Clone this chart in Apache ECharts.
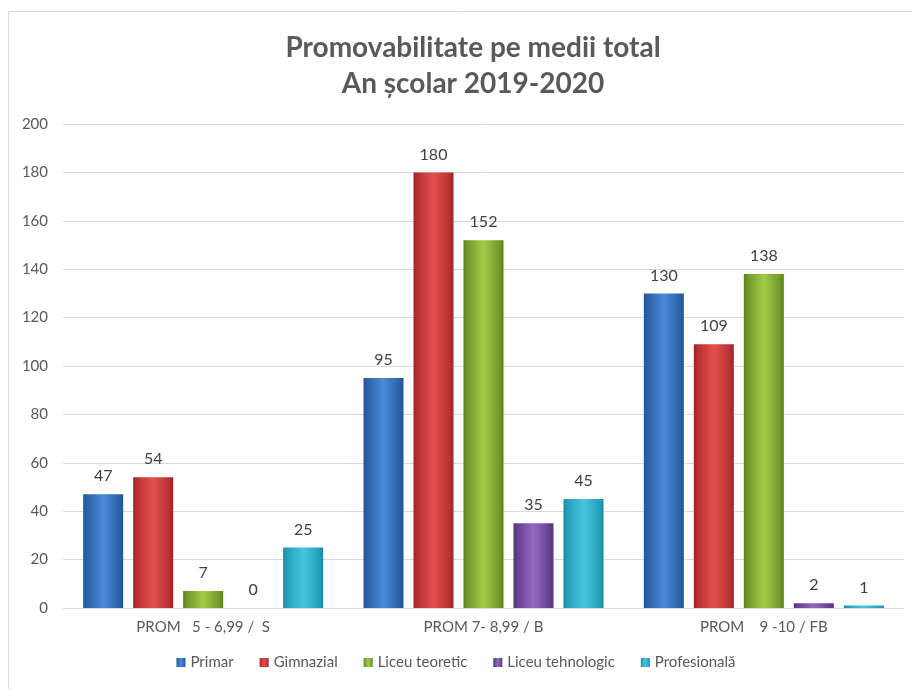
<!DOCTYPE html>
<html>
<head>
<meta charset="utf-8">
<script src="https://cdn.jsdelivr.net/npm/echarts@6/dist/echarts.min.js"></script>
<style>html,body{margin:0;padding:0;background:#fff}#c{width:912px;height:689px}</style>
</head>
<body>
<div id="c"></div>
<script>
const categories = ['PROM   5 - 6,99 /  S', 'PROM 7- 8,99 / B', 'PROM    9 -10 / FB'];
const seriesNames = ['Primar', 'Gimnazial', 'Liceu teoretic', 'Liceu tehnologic', 'Profesională'];
const primar = [47, 95, 130];
const gimnazial = [54, 180, 109];
const liceuTeoretic = [7, 152, 138];
const liceuTehnologic = [0, 35, 2];
const profesionala = [25, 45, 1];
const yTicks = [0, 20, 40, 60, 80, 100, 120, 140, 160, 180, 200];

const values = [primar, gimnazial, liceuTeoretic, liceuTehnologic, profesionala];
const palette = [
  ['#24548f', '#4a8ad8', '#2a62a8'],
  ['#9e2424', '#e45050', '#b83030'],
  ['#5f8020', '#a2cc48', '#72982a'],
  ['#54347c', '#9468c4', '#64408f'],
  ['#1c8aa2', '#46c4de', '#25a0ba']
];
function grad(p) {
  return new echarts.graphic.LinearGradient(0, 0, 1, 0, [
    {offset: 0, color: p[0]},
    {offset: 0.1, color: p[2]},
    {offset: 0.5, color: p[1]},
    {offset: 0.9, color: p[2]},
    {offset: 1, color: p[0]}
  ]);
}
const chart = echarts.init(document.getElementById('c'));
chart.setOption({
  animation: false,
  backgroundColor: '#fff',
  color: palette.map(p => p[1]),
  graphic: [{
    type: 'rect', shape: {x: 8.5, y: 11.5, width: 930, height: 700},
    style: {fill: 'none', stroke: '#d9d9d9', lineWidth: 1}
  }],
  title: {
    text: 'Promovabilitate pe medii total\nAn școlar 2019-2020',
    left: 468, top: 25, textAlign: 'center',
    textStyle: {fontFamily: 'Lato', fontWeight: 'bold', fontSize: 28, color: '#595959', lineHeight: 36}
  },
  legend: {
    bottom: 14, left: 'center', itemWidth: 9, itemHeight: 9, itemGap: 26,
    icon: 'rect',
    textStyle: {fontFamily: 'Lato', fontSize: 15, color: '#595959'},
    data: seriesNames
  },
  grid: {left: 63, right: 8, top: 124, bottom: 81},
  xAxis: {
    type: 'category', data: categories,
    axisLine: {lineStyle: {color: '#d9d9d9'}},
    axisTick: {show: false},
    axisLabel: {fontFamily: 'Lato', fontSize: 15, color: '#595959', margin: 12}
  },
  yAxis: {
    type: 'value', min: 0, max: 200, interval: 20,
    axisLine: {show: false}, axisTick: {show: false},
    splitLine: {lineStyle: {color: '#d9d9d9'}},
    axisLabel: {fontFamily: 'Lato', fontSize: 15, color: '#595959', margin: 15,
      formatter: v => yTicks.includes(v) ? String(v) : ''}
  },
  series: values.map((d, i) => ({
    name: seriesNames[i], type: 'bar', data: d,
    barWidth: 40, barGap: '25%',
    itemStyle: {color: grad(palette[i]), borderWidth: 0},
    label: {show: true, position: 'top', distance: 10, fontFamily: 'Lato', fontSize: 16, color: '#404040'}
  }))
});
</script>
</body>
</html>
